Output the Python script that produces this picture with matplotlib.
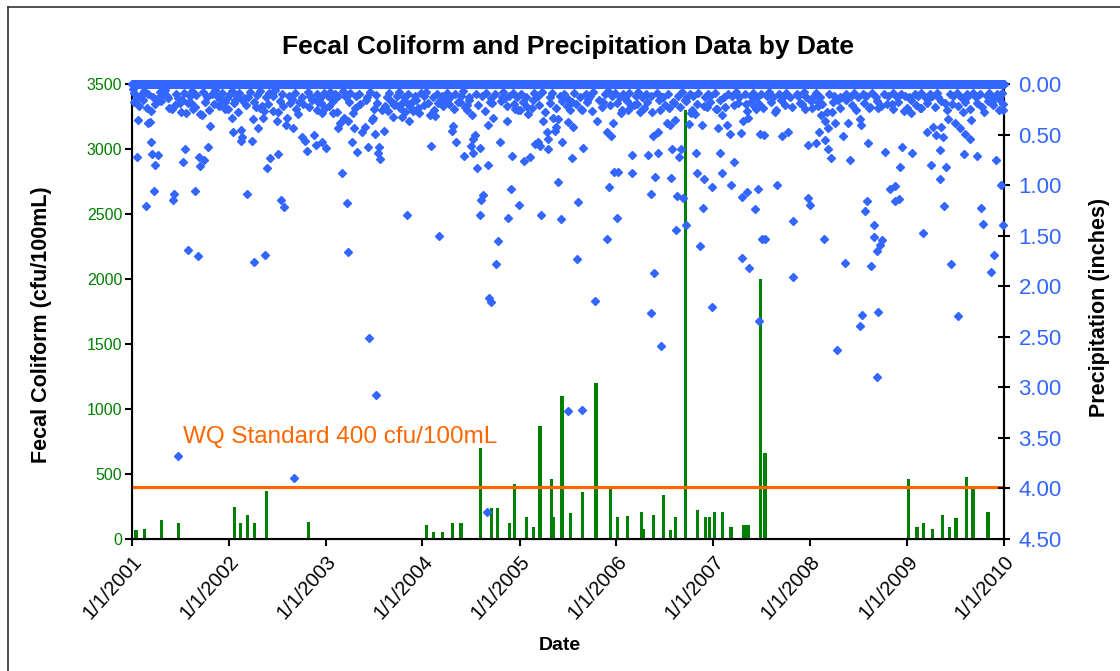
import pandas as pd
import numpy as np
import matplotlib
matplotlib.use('Agg')
import matplotlib.pyplot as plt
from matplotlib.lines import Line2D

plt.rcParams['font.family'] = ['Liberation Sans', 'DejaVu Sans']

# Fecal coliform samples (cfu/100mL)
fc_dates = ['2001-01-16', '2001-02-18', '2001-04-22', '2001-06-24', '2002-01-21', '2002-02-15', '2002-03-13',
            '2002-04-08', '2002-05-23', '2002-10-28',
            '2004-01-17', '2004-02-12', '2004-03-15', '2004-04-22', '2004-05-25', '2004-08-08', '2004-09-16',
            '2004-10-11', '2004-11-24', '2004-12-13',
            '2005-01-27', '2005-02-21', '2005-03-19', '2005-05-01', '2005-05-10', '2005-06-10', '2005-07-12',
            '2005-08-25', '2005-10-16', '2005-12-11',
            '2006-01-05', '2006-02-13', '2006-04-05', '2006-04-11', '2006-05-21', '2006-06-28', '2006-07-24',
            '2006-08-11', '2006-09-19', '2006-11-02',
            '2006-12-02', '2006-12-17', '2007-01-05', '2007-02-06', '2007-03-09', '2007-04-27', '2007-05-12',
            '2007-06-27', '2007-07-15',
            '2009-01-06', '2009-02-07', '2009-03-05', '2009-04-07', '2009-05-15', '2009-06-09', '2009-07-04',
            '2009-08-12', '2009-09-06', '2009-11-02']
fc_values = [70, 80, 150, 120, 250, 120, 185, 120, 370, 130,
             110, 55, 55, 120, 120, 700, 240, 240, 120, 420,
             170, 95, 870, 460, 170, 1100, 200, 360, 1200, 390,
             170, 180, 210, 80, 185, 340, 70, 170, 3300, 220,
             170, 170, 210, 210, 95, 105, 105, 2000, 660,
             460, 95, 120, 80, 185, 95, 160, 475, 390, 210]

wq_standard = 400

# daily precipitation (inches), wet days given as days since 1/1/2001; all other days are 0
wet_day = [24, 62, 68, 55, 72, 18, 77, 97, 87, 83, 51, 159, 156, 191, 210, 247, 237, 191, 200, 212,
           252, 272, 255, 285, 294, 183, 149, 181, 212, 231, 256, 263, 350, 378, 382, 411, 413, 409,
           451, 432, 461, 501, 456, 476, 495, 499, 489, 466, 521, 549, 509, 561, 574, 612, 652, 627,
           612, 639, 545, 579, 585, 608, 627, 551, 12, 36, 93, 137, 332, 352, 388, 438, 526, 602, 630,
           687, 658, 652, 658, 687, 692, 717, 730, 790, 834, 810, 815, 878, 903, 928, 936, 850, 891,
           931, 928, 936, 828, 834, 838, 868, 878, 916, 950, 813, 778, 784, 800, 759, 834, 769, 727,
           715, 702, 677, 903, 910, 943, 984, 1019, 1044, 1029, 1060, 1079, 1035, 1127, 1123, 1142,
           1157, 1205, 1223, 1205, 1205, 1211, 1223, 1252, 1264, 1280, 1293, 1286, 1276, 1311, 1284,
           1299, 1315, 1315, 1310, 1324, 1261, 1230, 1192, 1154, 1180, 989, 1016, 1054,
           1343, 1341, 1362, 1349, 1387, 1387, 1406, 1412, 1428, 1444, 1456, 1431, 1428, 1460, 1418,
           1378, 1372, 1479, 1494, 1506, 1479, 1500, 1519, 1519, 1529, 1538, 1550, 1567, 1569, 1563,
           1550, 1588, 1607, 1597, 1594, 1619, 1645, 1663, 1651, 1657, 1701, 1676, 1660, 1676, 1604,
           1617, 1644, 1682, 1541, 1617, 1676, 1697, 1745, 1745, 1751, 1789, 1805, 1798, 1814, 1818,
           1833, 1798, 1827, 1790, 1886, 1883, 1845, 1871, 1893, 1915, 1931, 1946, 1946, 1958, 1971,
           1971, 1981, 1965, 1984, 1990, 1996, 1968, 1994, 1996, 1776, 1720,
           2015, 2040, 2028, 2047, 2015, 2034, 2069, 2062, 2032, 2053, 2078, 2087, 2049, 2099, 2084,
           2109, 2122, 2147, 2125, 2128, 2157, 2153, 2141, 2187, 2166, 2204, 2223, 2210, 2216, 2241,
           2254, 2216, 2270, 2225, 2258, 2298, 2317, 2300, 2326, 2348, 2358, 2295, 2304, 2323, 2313,
           2320, 2351, 2383, 2423, 2367, 2383, 2430, 2376, 2386, 2449, 2471, 2493, 2524, 2490, 2493,
           2547, 2555, 2577, 2549, 2577, 2612, 2624, 2609, 2634, 2589, 2622, 2614, 2650, 2599, 2637,
           2562, 2587, 2609, 2681, 2687, 2662,
           2700, 2706, 2744, 2747, 2775, 2777, 2813, 2819, 2828, 2840, 2863, 2857, 2878, 2875, 2892,
           2894, 2903, 2942, 2923, 2938, 2970, 2772, 2762, 2798, 2796, 2828, 2819, 2810, 2785, 2983,
           2983, 2998, 3011, 3020, 3029, 3051, 3058, 3045, 3070, 3076, 3047, 3089, 3059, 3089, 3076,
           3101, 3120, 3133, 3139, 3158, 3137, 3133, 3164, 3164, 3187, 3199, 3208, 3211, 3237, 3258,
           3250, 3237, 3275, 3267, 3284, 3285, 3267, 3240, 3001, 3064,
           175, 612, 894, 920, 1347, 1353, 1340, 1644, 1745, 1695, 1956, 1994, 2188, 2364, 2656, 2750,
           2746, 2812, 2807, 3112]
wet_in = [.36, .39, .38, .24, .57, .72, .69, .70, .80, 1.06, 1.21, 1.09, 1.15, 1.34, 1.64, 1.70, 1.06, .77,
          .64, .69, .72, .75, .81, .62, .42, .28, .25, .19, .19, .25, .30, .31, .25, .34, .47, .45, .52,
          .56, .56, 1.09, 1.76, 1.69, .35, .44, .34, .27, .22, .23, .73, .69, .83, 1.15, 1.22, 1.36, 1.35,
          .97, .66, .52, .37, .41, .34, .44, .30, .28, .16, .11, .15, .14, .16, .18, .16, .13, .10, .15,
          .18,
          1.34, .31, .56, .66, .50, .60, .57, .63, .88, 1.02, 1.18, 1.66, .92, 1.05, .91, 1.20, .67, .62,
          .62, .68, .74, .57, .54, .44, .47, .43, .49, .46, .37, .44, .39, .34, .29, .29, .13, .24, .29,
          .18, .15, .36, .34, .26, .33, .33, .37, .28, .27, .24, 1.30, .61, .31, .32, 1.50, 1.36, 1.34,
          .28, .46, .42, .57, .71, .26, .31, .50, .54, .61, .63, .68, .83, 1.05, 1.15, 1.30, 1.10, .21,
          .18, .15, .19, .18, .21, .19, .18,
          .41, .80, .34, .18, .24, .57, .14, .37, .40, .25, .26, .71, 1.04, 1.20, 1.33, 1.55, 1.78, .55,
          .30, .24, .76, .72, .73, .59, .57, .61, .64, .64, .54, .47, .37, .34, .35, .43, .46, .57, .38,
          .43, .26, .18, .63, .70, .73, .93, .97, 1.19, 1.19, 1.17, 1.30, 1.34, 1.73, .26, .25, .35, .37,
          .47, .51, .43, .39, .87, .87, 1.02, 1.33, 1.53, .70, .88, .29, .26, .21, .28, .24, .38, .70,
          1.09, .87, .92, .68, .51, .47, .26, .61, 1.87, 2.06, .13, .18, .15,
          .24, .18, .41, .36, .39, .64, .64, .72, .93, 1.11, 1.13, 1.39, 1.44, .40, .16, .29, .30, .41,
          .68, .88, .94, 1.23, 1.60, 1.02, .23, .25, .31, .44, .39, .41, .49, .68, .77, .88, 1.00, 1.12,
          1.07, 1.72, 1.82, 1.24, 1.04, .48, .37, .34, .20, .27, .25, .22, .28, .49, .50, 1.00, 1.53,
          1.53, .51, .47, .37, .20, 1.35, 1.91, 1.13, 1.20, 1.29, .60, .58, .55, .64, .74, .73, .47, .44,
          .37, .39, .31, .28, .24, .18, 1.53, .51, 1.77, .16,
          .39, .75, .35, .41, .58, .24, .24, .51, .57, .67, .20, 1.04, 1.01, 1.16, 1.14, .82, .62, .68,
          .24, .29, .24, 1.16, 1.26, 1.39, 1.51, 1.54, 1.59, 1.65, 1.80, 1.27, 1.47, .47, .80, .43, .50,
          .43, .52, .65, .82, .73, .94, .96, 1.21, 1.78, .35, .39, .44, .41, .49, .54, .69, .28, .18, .36,
          .71, 1.23, 1.38, .28, .80, .75, 1.69, 1.86, 1.00, 1.07, 1.39, .26, .15, .18, .15, .19,
          3.68, 3.90, 2.51, 3.08, 2.12, 2.16, 4.23, 3.23, 2.15, 3.22, 2.26, 2.59, 2.21, 2.34, 2.63, 2.28,
          2.39, 2.25, 2.90, 2.29]

# light-rain days that make up the band under the zero line
band_day = [3, 9, 30, 44, 60, 79, 105, 114, 124, 131, 167, 173, 196, 220, 228, 243, 268, 281, 301, 314,
            322, 341, 357,
            368, 376, 395, 402, 421, 445, 470, 482, 505, 515, 533, 538, 565, 592, 616, 640, 662, 671, 696,
            708, 722,
            738, 746, 752, 764, 776, 795, 806, 822, 845, 857, 886, 897, 921, 960, 970, 998, 1006, 1025,
            1040, 1066, 1088,
            1101, 1110, 1135, 1150, 1168, 1186, 1199, 1217, 1240, 1248, 1270, 1297, 1320, 1333, 1355,
            1370, 1395, 1400, 1420, 1437, 1450,
            1468, 1486, 1514, 1530, 1545, 1577, 1584, 1613, 1630, 1640, 1668, 1688, 1710, 1728, 1738,
            1760, 1782, 1795, 1810, 1822,
            1838, 1852, 1860, 1875, 1900, 1908, 1922, 1938, 1955, 1978, 2003, 2020, 2058, 2072, 2093,
            2104, 2116, 2135, 2160, 2172, 2180,
            2196, 2232, 2245, 2262, 2276, 2288, 2310, 2332, 2340, 2356, 2372, 2392, 2400, 2415, 2438,
            2456, 2465, 2480, 2505, 2512, 2532, 2540,
            2570, 2580, 2595, 2628, 2645, 2656, 2670, 2693, 2712, 2720, 2735, 2755, 2766, 2790, 2803,
            2834, 2848, 2870, 2885, 2899, 2912,
            2930, 2950, 2962, 2976, 2990, 3008, 3016, 3033, 3040, 3082, 3095, 3108, 3125, 3148, 3152,
            3172, 3180, 3195, 3222, 3232, 3248, 3262, 3272, 3280]
band_in = [.05, .09, .12, .07, .10, .13, .08, .11, .06, .12, .10, .14, .09, .12, .07, .11, .08, .13, .10, .06,
           .12, .09, .14,
           .10, .07, .12, .09, .14, .08, .11, .07, .13, .09, .12, .06, .10, .12, .09, .13, .08, .12, .10,
           .14, .09,
           .12, .08, .14, .10, .12, .07, .13, .09, .12, .10, .13, .08, .11, .13, .09, .12, .08, .13,
           .10, .12, .09,
           .12, .08, .13, .10, .12, .09, .13, .10, .12, .07, .13, .10, .12, .09, .14,
           .10, .13, .08, .12, .09, .13,
           .10, .13, .09, .12, .08, .13, .09, .12, .10, .14, .09, .13, .10, .12, .08,
           .13, .10, .07, .12, .09,
           .13, .10, .14, .09, .12, .08, .13, .10, .12, .09, .13, .10, .12, .08, .13,
           .10, .12, .09, .13, .10, .12,
           .09, .13, .10, .12, .08, .13, .10, .12, .09, .13, .10, .12, .08, .13, .10,
           .12, .09, .13, .10, .12, .08, .13,
           .12, .09, .13, .10, .12, .08, .13, .10, .12, .09, .13, .10, .12, .09, .13,
           .10, .12, .09, .13, .10, .12,
           .13, .10, .12, .09, .13, .10, .12, .09, .13, .10, .12, .09, .13, .10, .12,
           .09, .13, .10, .12, .09, .13, .10, .12, .09]

# somewhat wetter days filling the dense band down to ~0.3 in
mid_day = [6, 27, 40, 70, 88, 110, 141, 163, 188, 205, 224, 239, 276, 290, 308,
           327, 345, 363, 385, 398, 416, 428, 460, 484, 512, 530, 558, 570, 596, 620,
           645, 666, 680, 699, 712, 741, 757, 772, 800, 818, 840, 860, 882, 912, 925,
           953, 965, 978, 993, 1010, 1032, 1048, 1070, 1083, 1099, 1115, 1138, 1162, 1172, 1196,
           1215, 1236, 1257, 1272, 1306, 1330, 1357, 1372, 1392, 1415, 1440, 1462, 1475, 1490, 1510,
           1536, 1556, 1575, 1600, 1622, 1638, 1672, 1694, 1716, 1735, 1760, 1772, 1800, 1830, 1848,
           1866, 1880, 1905, 1925, 1942, 1962, 1985, 2008, 2025, 2044, 2066, 2090, 2112, 2130, 2155,
           2178, 2200, 2218, 2237, 2268, 2283, 2300, 2336, 2345, 2362, 2380, 2408, 2428, 2445, 2462,
           2486, 2518, 2538, 2560, 2584, 2602, 2620, 2644, 2668, 2690, 2715, 2730, 2758, 2782, 2808,
           2825, 2845, 2868, 2888, 2910, 2935, 2955, 2975, 2995, 3026, 3050, 3072, 3090, 3115, 3140,
           3160, 3185, 3205, 3228, 3245, 3268, 3282]
mid_in = [.18, .22, .16, .27, .20, .17, .24, .21, .16, .29, .19, .23, .18, .26, .20,
          .22, .17, .25, .19, .28, .16, .21, .18, .24, .20, .27, .17, .22, .19, .25,
          .20, .23, .16, .26, .19, .22, .17, .28, .21, .18, .24, .20, .16, .25, .19,
          .22, .27, .17, .20, .24, .18, .23, .16, .29, .21, .19, .26, .17, .22, .20,
          .25, .18, .23, .16, .21, .27, .19, .24, .17, .22, .20, .26, .18, .23, .16,
          .21, .28, .19, .24, .17, .22, .20, .25, .18, .27, .16, .23, .21, .19, .26,
          .17, .22, .20, .25, .18, .28, .16, .21, .24, .19, .23, .17, .26, .20, .22,
          .18, .25, .16, .23, .21, .19, .27, .17, .22, .20, .24, .18, .26, .16, .21,
          .23, .19, .25, .17, .22, .20, .28, .18, .24, .16, .21, .26, .19, .23, .17,
          .22, .20, .25, .18, .27, .16, .21, .24, .19, .23, .17, .26, .20, .22, .18,
          .25, .19, .23, .17, .21, .26, .20]

year_ticks = ['2001-01-01', '2002-01-01', '2003-01-01', '2004-01-01', '2005-01-01',
              '2006-01-01', '2007-01-01', '2008-01-01', '2009-01-01', '2010-01-01']
year_labels = ['1/1/2001', '1/1/2002', '1/1/2003', '1/1/2004', '1/1/2005',
               '1/1/2006', '1/1/2007', '1/1/2008', '1/1/2009', '1/1/2010']

green = '#008000'
blue = '#3366FF'
orange = '#FF6600'

start = pd.Timestamp('2001-01-01')
end = pd.Timestamp('2010-01-01')

# build the daily precipitation series
precip = pd.Series(0.0, index=pd.date_range(start, end))
for d, v in zip(band_day, band_in):
    precip.iloc[d] = v
for d, v in zip(mid_day, mid_in):
    precip.iloc[d] = v
for d, v in zip(wet_day, wet_in):
    precip.iloc[d] = v

fig = plt.figure(figsize=(11.2, 6.71), dpi=100)
ax = fig.add_axes([132/1120, 1-539/671, 872/1120, 455/671])

ax.bar(pd.to_datetime(fc_dates), fc_values, width=12, color=green, zorder=2)
ax.axhline(wq_standard, color=orange, lw=2.3, zorder=3)
ax.text(pd.Timestamp('2001-07-12'), 740, 'WQ Standard 400 cfu/100mL', color=orange, fontsize=17.5)

ax.set_xlim(start, end)
ax.set_ylim(0, 3500)
ax.set_yticks(range(0, 3501, 500))
ax.set_xticks(pd.to_datetime(year_ticks))
ax.set_xticklabels(year_labels, rotation=48, ha='right', va='top', rotation_mode='anchor', fontsize=14.5)
ax.tick_params(axis='y', colors='black', labelcolor=green, labelsize=11.5, direction='out', length=5,
               width=1.5, pad=2)
ax.tick_params(axis='x', direction='out', length=5, width=1.5, pad=4)
for s in ['left', 'bottom', 'right']:
    ax.spines[s].set_linewidth(1.5)
ax.spines['top'].set_visible(False)

ax2 = ax.twinx()
ax2.plot(precip.index, precip.values, 'D', ms=4.5, color=blue, ls='none', clip_on=False, zorder=4)
ax2.set_ylim(4.5, 0)
ax2.set_yticks(np.arange(0, 4.51, 0.5))
ax2.set_yticklabels(['%.2f' % t for t in np.arange(0, 4.51, 0.5)])
ax2.tick_params(axis='y', labelcolor=blue, labelsize=16, direction='inout', length=9, width=1.5, pad=6)
ax2.spines['top'].set_visible(False)
ax2.spines['right'].set_linewidth(1.5)
ax2.set_xlim(start, end)

fig.text(568/1120, 1-47/671, 'Fecal Coliform and Precipitation Data by Date', ha='center', va='center',
         fontsize=19, fontweight='bold')
fig.text(42/1120, 1-325/671, 'Fecal Coliform (cfu/100mL)', rotation=90, ha='center', va='center',
         fontsize=15.5, fontweight='bold')
fig.text(1099/1120, 1-307/671, 'Precipitation (inches)', rotation=90, ha='center', va='center',
         fontsize=15.5, fontweight='bold')
fig.text(560/1120, 1-645/671, 'Date', ha='center', va='center', fontsize=14, fontweight='bold')

# chart border
fig.add_artist(Line2D([8/1120, 1], [1-7/671, 1-7/671], color='#333333', lw=1.2))
fig.add_artist(Line2D([8/1120, 8/1120], [0, 1-7/671], color='#333333', lw=1.2))

fig.savefig('out.png', dpi=100)
